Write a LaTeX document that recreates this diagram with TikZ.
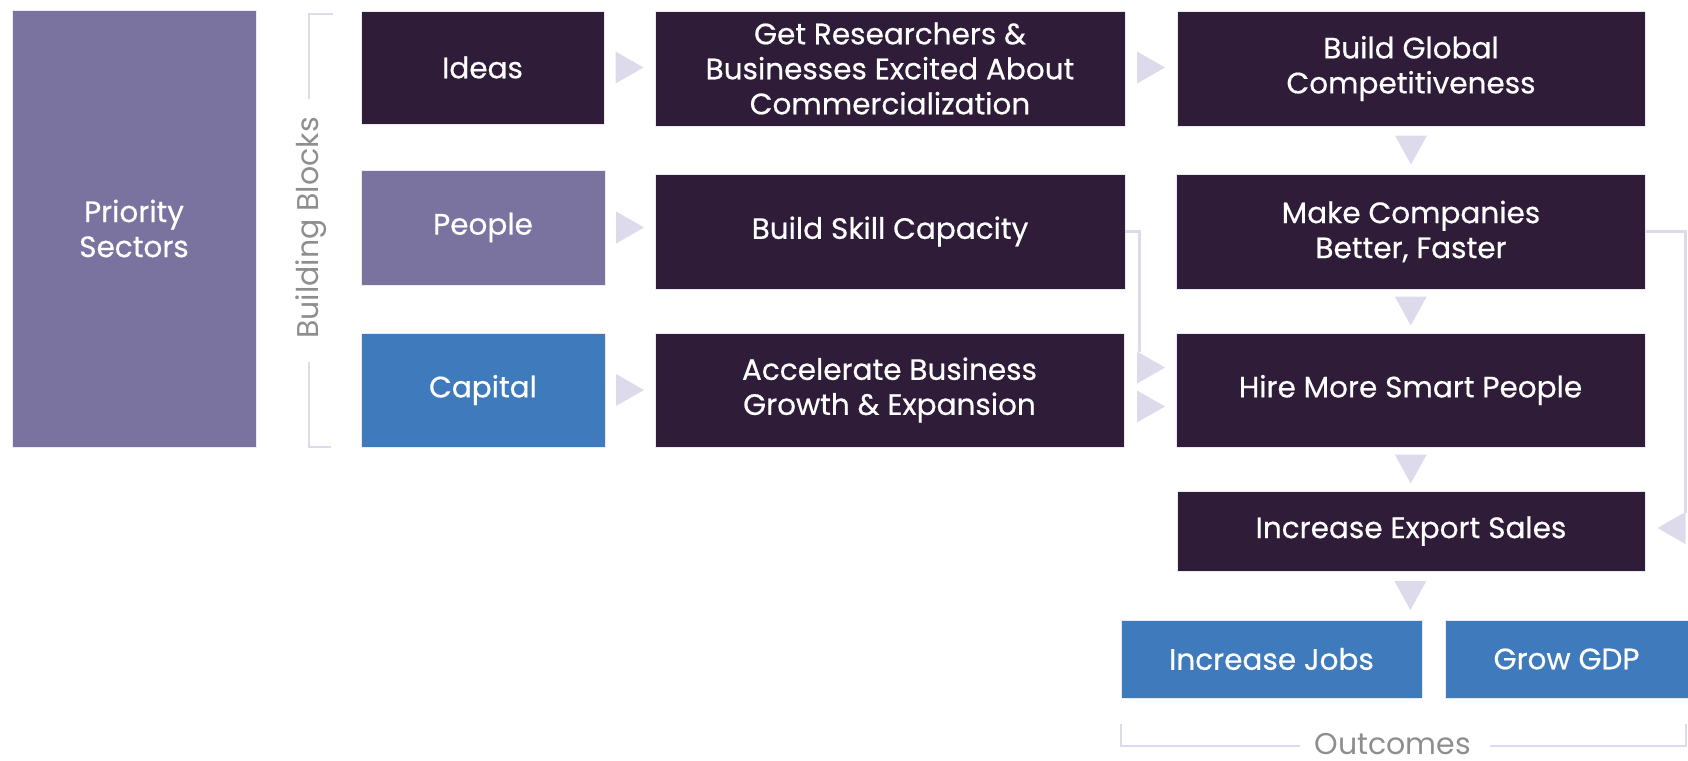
\documentclass[tikz,border=0pt]{standalone}
\usepackage{fontspec}
\setmainfont{Poppins}
\newfontfamily\popm{Poppins}[FakeBold=0.5]
\usetikzlibrary{calc}
\definecolor{dark}{HTML}{2F1C38}
\definecolor{purp}{HTML}{7A73A0}
\definecolor{blu}{HTML}{3F7BBC}
\definecolor{lav}{HTML}{DDDBEB}
\definecolor{graytxt}{HTML}{8E8E8E}
\tikzset{
  box/.style={draw=lav!60!white, line width=0.8pt, text=white, align=center,
    inner sep=0pt, font=\popm\fontsize{29.5}{35}\selectfont},
  darkbox/.style={box, fill=dark},
  purpbox/.style={box, fill=purp},
  bluebox/.style={box, fill=blu},
  conn/.style={draw=lav, line width=3pt},
  tri/.style={fill=lav},
  lbl/.style={text=graytxt, font=\fontsize{30}{34}\selectfont, inner sep=0pt}
}
\newcommand{\rtri}[1]{\fill[tri] #1 ++(-14,16) -- ++(28,-16) -- ++(-28,-16) -- cycle;}
\newcommand{\ltri}[1]{\fill[tri] #1 ++(14,16) -- ++(-28,-16) -- ++(28,-16) -- cycle;}
\newcommand{\dtri}[1]{\fill[tri] #1 ++(-16,-14.5) -- ++(32,0) -- ++(-16,29) -- cycle;}
\begin{document}
\begin{tikzpicture}[x=1pt,y=-1pt]
\useasboundingbox (0,0) rectangle (1688,760);
% column 0
\node[purpbox, minimum width=244, minimum height=437] (ps) at (134,228.5) {Priority\\Sectors};
% column 1
\node[darkbox, minimum width=243, minimum height=113] (ideas) at (482.5,67.5) {Ideas};
\node[purpbox, minimum width=244, minimum height=115] (people) at (483,227.5) {People};
\node[bluebox, minimum width=244, minimum height=114] (capital) at (483,390) {Capital};
% column 2
\node[darkbox, minimum width=470, minimum height=115] (gr) at (890,68.5) {Get Researchers \&\\Businesses Excited About\\Commercialization};
\node[darkbox, minimum width=470, minimum height=115] (skill) at (890,231.5) {Build Skill Capacity};
\node[darkbox, minimum width=469, minimum height=114] (accel) at (889.5,390) {Accelerate Business\\Growth \& Expansion};
% column 3
\node[darkbox, minimum width=468, minimum height=115] (global) at (1411,68.5) {Build Global\\Competitiveness};
\node[darkbox, minimum width=469, minimum height=115] (make) at (1411,231.5) {Make Companies\\Better, Faster};
\node[darkbox, minimum width=469, minimum height=114] (hire) at (1410.5,390) {Hire More Smart People};
\node[darkbox, minimum width=468, minimum height=80] (export) at (1411,531) {Increase Export Sales};
% outcomes
\node[bluebox, minimum width=301, minimum height=78] (jobs) at (1271.5,659) {Increase Jobs};
\node[bluebox, minimum width=243, minimum height=78] (gdp) at (1566.5,659) {Grow GDP};
% right-pointing arrowheads
\rtri{($(ideas.east)!0.5!(gr.west |- ideas.east)$)}
\rtri{($(people.east)!0.5!(skill.west |- people.east)$)}
\rtri{($(capital.east)!0.5!(accel.west |- capital.east)$)}
\rtri{($(gr.east |- ideas.east)!0.5!(global.west |- ideas.east)$)}
% down arrowheads
\dtri{($(global.south)!0.5!(make.north)$)}
\dtri{($(make.south)!0.5!(hire.north)$)}
\dtri{($(hire.south)!0.5!(export.north)$)}
\dtri{($(export.south -| jobs.north east)!0.5!(jobs.north east)$) ++(-12,0)}
% skill -> hire
\coordinate (s1) at (1139,352);
\draw[conn] (skill.east) -| (s1);
\rtri{(1151,367.5)}
% accel -> hire
\rtri{(1151,406.5)}
% make -> export
\coordinate (m1) at (1685,513);
\draw[conn] (make.east) -| (m1);
\ltri{(1671.5,528)}
% Building Blocks bracket
\node[lbl, rotate=90] (bb) at (311,228) {Building Blocks};
\draw[draw=lav, line width=2.5pt] (333,14) -- (309,14) -- (309,99);
\draw[draw=lav, line width=2.5pt] (309,362) -- (309,447) -- (331,447);
% Outcomes bracket
\node[lbl] (oc) at (1393,744) {Outcomes};
\draw[draw=lav, line width=2.5pt] (1121,724) -- (1121,746) -- (1300,746);
\draw[draw=lav, line width=2.5pt] (1490,746) -- (1686,746) -- (1686,724);
\end{tikzpicture}
\end{document}
